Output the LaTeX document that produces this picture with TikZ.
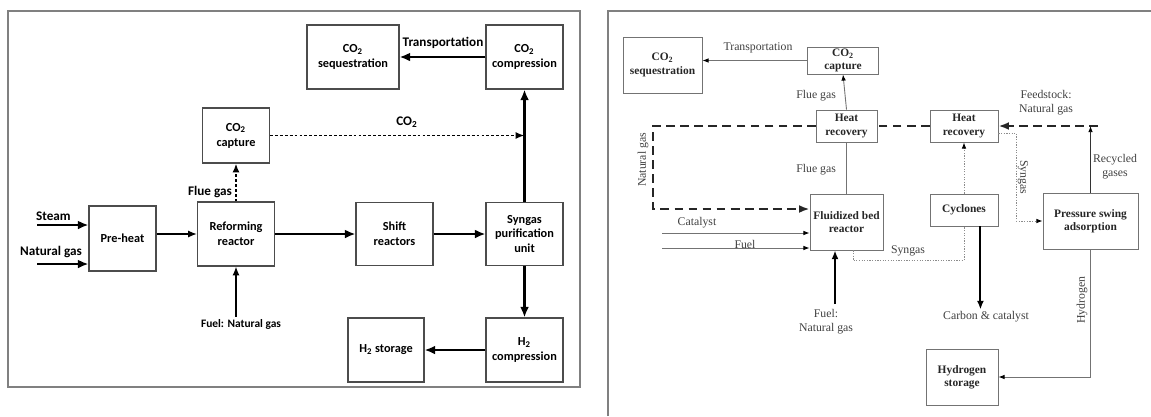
\documentclass[tikz,border=0pt]{standalone}
\usepackage{fontspec}
\setmainfont{Liberation Serif}
\newfontfamily\calfont{Carlito}
\usetikzlibrary{arrows.meta,positioning}

\begin{document}
\begin{tikzpicture}[x=0.02cm,y=-0.02cm]
	\tikzstyle{lbox} = [draw=black!70,line width=0.6pt,align=center,inner sep=1pt,font=\calfont\bfseries\fontsize{7}{8.5}\selectfont]
	\tikzstyle{rbox} = [draw=black!55,line width=0.5pt,align=center,inner sep=1pt,text=black!85,font=\bfseries\fontsize{6.5}{7.5}\selectfont]
	\tikzstyle{llab} = [inner sep=1pt,align=center,font=\calfont\bfseries\fontsize{7.5}{9}\selectfont]
	\tikzstyle{rlab} = [inner sep=1pt,align=center,text=black!75,font=\fontsize{6.7}{8}\selectfont]
	\tikzstyle{heavy} = [draw=black,line width=1.4pt,-{Latex[length=6pt,width=5pt]}]
	\tikzstyle{medium} = [draw=black,line width=0.9pt,-{Latex[length=5pt,width=4pt]}]
	\tikzstyle{dotflow} = [draw=black,line width=1.1pt,dash pattern=on 1.6pt off 1.2pt,-{Latex[length=5pt,width=4pt]}]
	\tikzstyle{thin} = [draw=black!55,line width=0.5pt,-{Latex[length=3.5pt,width=2.6pt,black]}]
	\tikzstyle{dotline} = [draw=black!45,line width=0.5pt,dash pattern=on 0.7pt off 0.8pt]
	\tikzstyle{gasline} = [draw=black!85,line width=1.2pt,dash pattern=on 5pt off 3pt]
	\useasboundingbox (0,0) rectangle (1151,416);
	% frames
	\draw[black!50,line width=0.7pt] (8,11) rectangle (580,387);
	\draw[black!50,line width=0.7pt] (608,416) -- (608,11) -- (1151,11);

	% left: steam reforming
	\node[lbox,minimum width=1.84cm,minimum height=1.28cm] (seqL) at (353,57) {CO\textsubscript{2}\\sequestration};
	\node[lbox,minimum width=1.54cm,minimum height=1.28cm] (compL) at (524.5,57) {CO\textsubscript{2}\\compression};
	\node[lbox,minimum width=1.34cm,minimum height=1.1cm] (capL) at (236,135.5) {CO\textsubscript{2}\\capture};
	\node[lbox,minimum width=1.34cm,minimum height=1.3cm] (preL) at (122.5,238.5) {Pre-heat};
	\node[lbox,minimum width=1.54cm,minimum height=1.28cm] (refL) at (236,234) {Reforming\\reactor};
	\node[lbox,minimum width=1.54cm,minimum height=1.26cm] (shiftL) at (394.5,234) {Shift\\reactors};
	\node[lbox,minimum width=1.54cm,minimum height=1.26cm] (purL) at (524.5,234) {Syngas\\purification\\unit};
	\node[lbox,minimum width=1.54cm,minimum height=1.28cm] (h2cL) at (524.5,350) {H\textsubscript{2}\\compression};
	\node[lbox,minimum width=1.52cm,minimum height=1.28cm] (h2sL) at (386,350) {H\textsubscript{2} storage};
	\coordinate (steamL) at (37,225);
	\coordinate (ngL) at (37,264);
	\node[llab,anchor=south west] (steamtxt) at (34,223) {Steam};
	\node[llab] (ngtxt) at (51,252) {Natural gas};
	\node[llab,font=\calfont\bfseries\fontsize{6.5}{8}\selectfont] (fuelL) at (241,324) {Fuel: Natural gas};
	\node[llab] (fluetxt) at (210,192) {Flue gas};
	\node[llab] (co2txt) at (407,122) {CO\textsubscript{2}};
	\node[llab] (transtxt) at (443,43) {Transportation};

	\draw[heavy] (steamL) -- (steamL -| preL.west);
	\draw[heavy] (ngL) -- (ngL -| preL.west);
	\draw[medium] (preL.east |- refL.east) -- (refL.west);
	\draw[medium] (fuelL.north -| refL.south) -- (refL.south);
	\draw[dotflow] (refL.north) -- (capL.south);
	\draw[dotflow] (capL.east) -- (capL.east -| purL.north);
	\draw[heavy] (refL.east) -- (shiftL.west);
	\draw[heavy] (shiftL.east) -- (purL.west);
	\draw[heavy] (purL.north) -- (compL.south);
	\draw[heavy] (compL.west) -- (seqL.east);
	\draw[heavy] (purL.south) -- (h2cL.north);
	\draw[heavy] (h2cL.west) -- (h2sL.east);

	% right: catalytic decomposition
	\node[rbox,minimum width=1.58cm,minimum height=1.12cm] (seqR) at (662.5,65) {CO\textsubscript{2}\\sequestration};
	\node[rbox,minimum width=1.42cm,minimum height=0.54cm] (capR) at (843,60.5) {CO\textsubscript{2}\\capture};
	\node[rbox,minimum width=1.22cm,minimum height=0.64cm] (hr1) at (846.5,126) {Heat\\recovery};
	\node[rbox,minimum width=1.46cm,minimum height=1.12cm] (fbr) at (846.5,222) {Fluidized bed\\reactor};
	\node[rbox,minimum width=1.36cm,minimum height=0.64cm] (hr2) at (964,126) {Heat\\recovery};
	\node[rbox,minimum width=1.36cm,minimum height=0.64cm] (cyc) at (964,210) {Cyclones};
	\node[rbox,minimum width=1.9cm,minimum height=1.12cm] (psa) at (1090.5,221) {Pressure swing\\adsorption};
	\node[rbox,minimum width=1.44cm,minimum height=1.12cm] (h2s) at (962,377) {Hydrogen\\storage};
	\coordinate (feedR) at (1098,126);
	\coordinate (ngR) at (653,209);
	\coordinate (catR) at (662,233);
	\coordinate (fuelinR) at (662,248);
	\coordinate (fuelupR) at (835,304);
	\node[rlab] (transR) at (758,48) {Transportation};
	\node[rlab,anchor=east] (flue1R) at (838,96) {Flue gas};
	\node[rlab,anchor=east] (flue2R) at (838,170) {Flue gas};
	\node[rlab] (feedtxt) at (1046,103) {Feedstock:\\Natural gas};
	\node[rlab] (rectxt) at (1115,167) {Recycled\\gases};
	\node[rlab,rotate=-90] (syn1R) at (1023,177) {Syngas};
	\node[rlab,rotate=90] (ngtxtR) at (643,160) {Natural gas};
	\node[rlab] (cattxt) at (697,223) {Catalyst};
	\node[rlab] (fueltxt) at (745,244) {Fuel};
	\node[rlab] (syn2R) at (908,251) {Syngas};
	\node[rlab] (carbon) at (986,317) {Carbon \& catalyst};
	\node[rlab] (fuelR) at (826,322) {Fuel:\\Natural gas};
	\node[rlab,rotate=90] (h2txt) at (1082,300) {Hydrogen};

	\draw[thin] (capR.west) -- (capR.west -| seqR.east);
	\draw[thin] (hr1.north) -- (capR.south);
	\draw[thin,-] (fbr.north) -- (hr1.south);
	\draw[gasline,-{Latex[length=6pt,width=4.5pt]}] (feedR) -- (hr2.east);
	\draw[gasline] (hr2.west) -- (hr1.east);
	\draw[gasline,-{Latex[length=6pt,width=4.5pt]}] (hr1.west) -| (ngR) -- (ngR -| fbr.west);
	\draw[thin] (catR) -- (catR -| fbr.west);
	\draw[thin] (fuelinR) -- (fuelinR -| fbr.west);
	\draw[heavy,line width=1.1pt,-{Latex[length=5pt,width=4pt]}] (fuelupR) -- (fuelupR |- fbr.south);
	\draw[dotline] (fbr.283) -- ++(0,10) -| (cyc.south);
	\draw[dotline,-{Latex[length=3.5pt,width=2.6pt,black]}] (cyc.north) -- (hr2.south);
	\draw[dotline,-{Latex[length=3.5pt,width=2.6pt,black]}] (hr2.348) -- ++(18,0) |- (psa.west);
	\draw[heavy,line width=1.1pt,-{Latex[length=5pt,width=4pt]}] (cyc.315) -- (cyc.315 |- carbon.north);
	\draw[thin,draw=black!80] (psa.north) -- (psa.north |- feedR);
	\draw[thin] (psa.south) |- (h2s.east);
\end{tikzpicture}
\end{document}
